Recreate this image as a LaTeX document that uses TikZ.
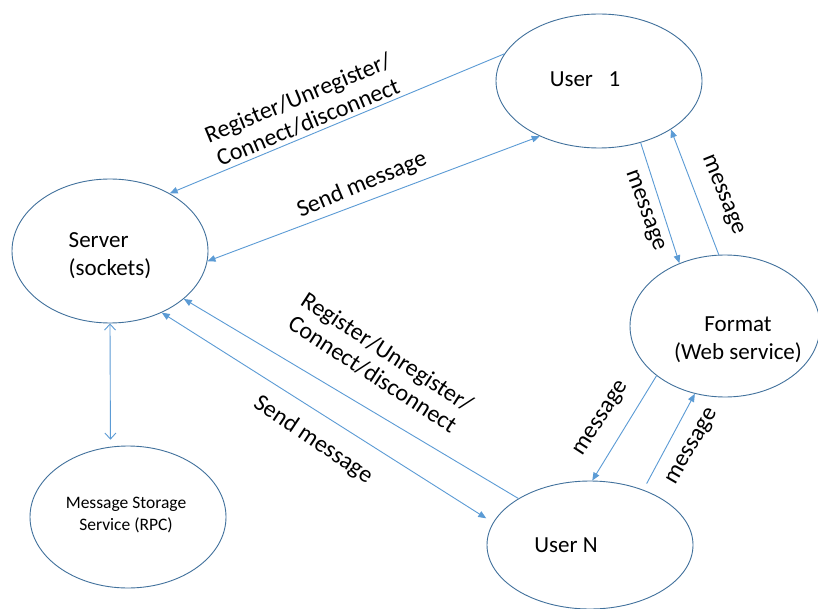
\documentclass[tikz,border=0pt]{standalone}
\usepackage{fontspec}
\setmainfont{Carlito}
\usetikzlibrary{arrows.meta,shapes.geometric}
\definecolor{ellc}{RGB}{65,113,156}
\definecolor{arrc}{RGB}{91,155,213}
\begin{document}
\begin{tikzpicture}[x=1pt,y=-1pt,
  ell/.style={ellipse, draw=ellc, line width=0.9pt, inner sep=0pt},
  ntext/.style={font=\fontsize{23}{28}\selectfont, inner sep=0pt},
  stext/.style={font=\fontsize{17.5}{22}\selectfont, inner sep=0pt, align=center},
  lbl/.style={font=\fontsize{24}{26.5}\selectfont, inner sep=0pt, align=center},
  conn/.style={draw=arrc, line width=0.9pt},
  >={Triangle[length=8pt,width=6.5pt]},
  barb/.style={{Straight Barb[length=6pt,width=11pt]}-{Straight Barb[length=6pt,width=11pt]}}
]
\useasboundingbox (0,0) rectangle (818,609);
\fill[white] (0,0) rectangle (818,609);

% ellipses
\node[ell, minimum width=206pt, minimum height=134pt] (u1) at (599,81) {};
\node[ell, minimum width=196pt, minimum height=144pt] (srv) at (110,251) {};
\node[ell, minimum width=196pt, minimum height=142pt] (ms) at (128,517) {};
\node[ell, minimum width=190pt, minimum height=142pt] (f) at (725,326) {};
\node[ell, minimum width=206pt, minimum height=128pt] (un) at (590,545) {};

% node texts
\node[ntext] (u1t) at (585,79) {User\ \ \ 1};
\node[ntext, align=left] (srvt) at (110,256) {Server\\(sockets)};
\node[stext] (mst) at (126,515) {Message Storage\\Service (RPC)};
\node[ntext, align=center] (ft) at (738,340) {Format\\(Web service)};
\node[ntext] (unt) at (566,545) {User N};

% connectors
\draw[conn,->] (u1.164.8) -- (srv.44);
\draw[conn,<->] (srv.-6) -- (u1.-137.3);
\draw[conn,->] (un.147.8) -- (srv.-33.2);
\draw[conn,<->,shorten >=8pt] (srv.-50.9) -- (un.167.6);
\draw[conn,barb,shorten >=7pt] (srv.south) -- (ms.104.5);
\draw[conn,->] (u1.-56.7) -- (f.126.1);
\draw[conn,->] (f.95.6) -- (u1.-34);
\draw[conn,->] (f.-144.1) -- (un.88);
\draw[conn,->,shorten <=7pt] (un.46) -- (f.-114.1);

% labels
\node[lbl, rotate=22.5] (l1) at (303,110) {Register/Unregister/\\Connect/disconnect};
\node[lbl, rotate=22.7] (l2) at (362,185) {Send message};
\node[lbl, rotate=-33] (l3) at (380,363) {Register/Unregister/\\Connect/disconnect};
\node[lbl, rotate=-34] (l4) at (313,440) {Send message};
\node[lbl, rotate=-70] (m1) at (644,211) {message};
\node[lbl, rotate=-68] (m2) at (722,195) {message};
\node[lbl, rotate=57] (m3) at (602,419) {message};
\node[lbl, rotate=60] (m4) at (693,447) {message};
\end{tikzpicture}
\end{document}
